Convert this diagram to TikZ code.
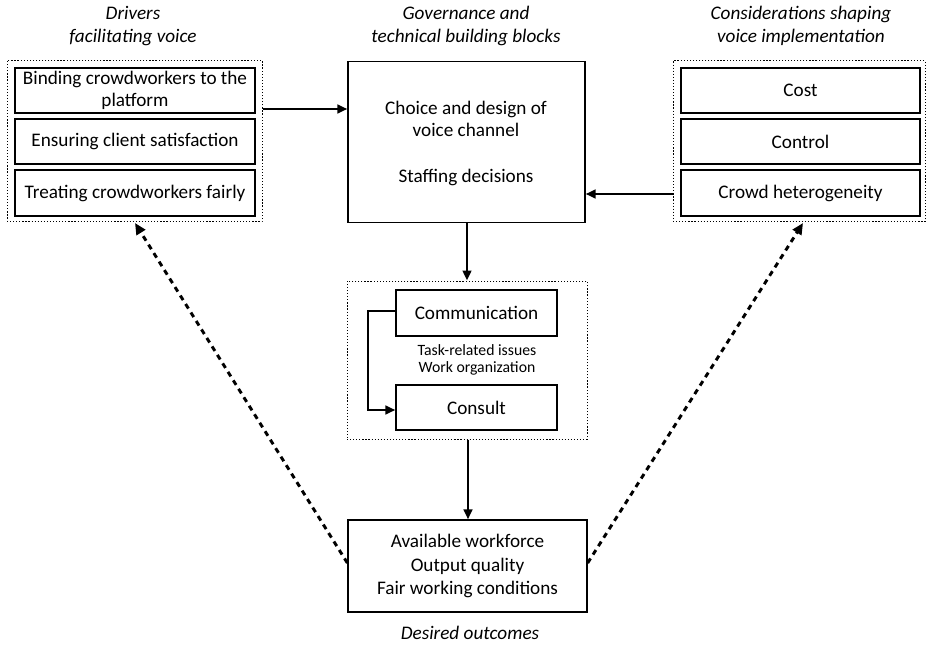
\documentclass[tikz,border=0pt]{standalone}
\usepackage{fontspec}
\setmainfont{Carlito}
\usetikzlibrary{arrows.meta}
\def\pu{0.75pt}
\begin{document}
\begin{tikzpicture}[x=0.75pt,y=-0.75pt,
  box/.style={draw,line width=1pt,inner sep=0pt,font=\fontsize{14.4}{16.5}\selectfont,align=center},
  grp/.style={draw,line width=0.75pt,dash pattern=on 0.9pt off 1.4pt,inner sep=0pt},
  ttl/.style={font=\fontsize{14.4}{17}\selectfont\itshape,align=center},
  arr/.style={line width=1.8pt,-{Triangle[length=7.5pt,width=6.5pt]}},
  darr/.style={line width=2.2pt,dash pattern=on 4pt off 3.5pt,-{Triangle[length=8.5pt,width=7.5pt]}}]
\useasboundingbox (0,0) rectangle (927,645);
% titles
\node[ttl] (t1) at (133,26) {Drivers\\facilitating voice};
\node[ttl] (t2) at (466,26) {Governance and\\technical building blocks};
\node[ttl] (t3) at (801,26) {Considerations shaping\\voice implementation};
\node[ttl] (t4) at (470,633) {Desired outcomes};
% left group
\node[grp,minimum width=255*\pu,minimum height=161*\pu] (lg) at (134.5,141) {};
\node[box,minimum width=240*\pu,minimum height=45*\pu] (l1) at (135,90.5) {Binding crowdworkers to the\\platform};
\node[box,minimum width=240*\pu,minimum height=45*\pu] (l2) at (135,141.5) {Ensuring client satisfaction};
\node[box,minimum width=240*\pu,minimum height=46*\pu] (l3) at (135,193) {Treating crowdworkers fairly};
% right group
\node[grp,minimum width=252*\pu,minimum height=161*\pu] (rg) at (799,141.5) {};
\node[box,minimum width=239*\pu,minimum height=45*\pu] (r1) at (800.5,90.5) {Cost};
\node[box,minimum width=239*\pu,minimum height=45*\pu] (r2) at (800.5,141.5) {Control};
\node[box,minimum width=239*\pu,minimum height=46*\pu] (r3) at (800.5,193) {Crowd heterogeneity};
% center box
\node[box,minimum width=237*\pu,minimum height=161*\pu] (cb) at (466.5,142) {};
\node[font=\fontsize{14.4}{16.5}\selectfont,align=center] (ct1) at (466,119) {Choice and design of\\voice channel};
\node[font=\fontsize{14.4}{17}\selectfont] (ct2) at (466,177) {Staffing decisions};
% middle group
\node[grp,minimum width=240*\pu,minimum height=158*\pu] (mg) at (467,360) {};
\node[box,minimum width=161*\pu,minimum height=46*\pu] (com) at (476.5,313) {Communication};
\node[box,minimum width=161*\pu,minimum height=45*\pu] (con) at (476.5,407.5) {Consult};
\node[font=\fontsize{11.8}{13}\selectfont,align=center] (mt) at (477,360) {Task-related issues\\Work organization};
% outcomes
\node[box,minimum width=239*\pu,minimum height=92*\pu,font=\fontsize{14.4}{17.5}\selectfont] (out) at (467.5,566) {Available workforce\\Output quality\\Fair working conditions};
% connectors
\draw[arr] (lg.east |- 0,109) -- (cb.west |- 0,109);
\draw[arr] (rg.west |- 0,194) -- (cb.east |- 0,194);
\draw[arr] (cb.south -| 467,0) -- (mg.north -| 467,0);
\draw[arr] (mg.south -| 468,0) -- (out.north -| 468,0);
\coordinate (e1) at (368,311);
\coordinate (e2) at (368,410);
\draw[arr,line join=miter] (com.west |- e1) -- (e1) -- (e2) -- (con.west |- e2);
\coordinate (dl) at (135,223);
\coordinate (dr) at (803,223);
\draw[darr] (out.west |- 0,563) -- (dl);
\draw[darr] (out.east |- 0,563) -- (dr);
\end{tikzpicture}
\end{document}
